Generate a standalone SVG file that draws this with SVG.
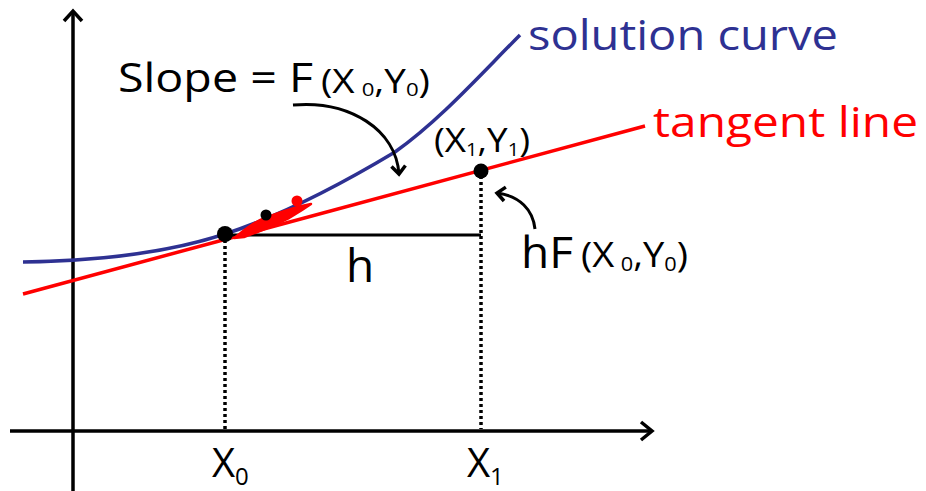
<svg xmlns="http://www.w3.org/2000/svg" width="926" height="491" viewBox="0 0 926 491">
<style>
  .t { font-family: "Open Sans", "Noto Sans", "DejaVu Sans", sans-serif; font-weight: 500; fill: #000; }
  .axis { stroke: #000; stroke-width: 3.5; fill: none; }
  .dot { stroke: #000; stroke-width: 3.5; stroke-dasharray: 3 3; fill: none; }
  .arr { stroke: #000; stroke-width: 3; fill: none; }
</style>
<defs>
  <marker id="head" markerUnits="userSpaceOnUse" markerWidth="24" markerHeight="24" refX="12" refY="8" orient="auto" viewBox="0 0 24 16">
    <path d="M4,1 L12,8 L4,15" fill="none" stroke="#000" stroke-width="3.5" stroke-linejoin="miter"/>
  </marker>
</defs>
<rect width="926" height="491" fill="#fff"/>

<g id="axes">
  <path class="axis" d="M10,431 H651"/>
  <path class="axis" d="M641,422 L652,431 L641,440" stroke-width="4"/>
  <path class="axis" d="M73,491 V12"/>
  <path class="axis" d="M64,21 L73,11 L82,21" stroke-width="4"/>
</g>

<g id="solution-curve">
  <path d="M23,262 C 100,261 170,252 225,234 C 280,216 340,185 395,152 C 440,120 480,75 520,35" fill="none" stroke="#2e3192" stroke-width="3.5"/>
  <text class="t" x="528" y="50" font-size="42" style="fill:#2e3192" textLength="310" lengthAdjust="spacingAndGlyphs">solution curve</text>
</g>

<g id="tangent-line">
  <path d="M23,294 L645,126" fill="none" stroke="#ff0000" stroke-width="3.5"/>
  <text class="t" x="653" y="137" font-size="42" style="fill:#ff0000" textLength="265" lengthAdjust="spacingAndGlyphs">tangent line</text>
</g>

<g id="connectors">
  <path d="M225,235 H481" stroke="#000" stroke-width="3" fill="none"/>
  <path class="dot" d="M225,240 V429"/>
  <path class="dot" d="M481,176 V429"/>
  <path class="arr" d="M293,105 C 350,100 396,130 399,174" marker-end="url(#head)"/>
  <path class="arr" d="M535,229 C 533,210 520,196 497,193" marker-end="url(#head)"/>
</g>

<g id="wedge">
  <path d="M234,238 C 246,229 255,221 265,218 C 276,214 290,208 311,204 C 301,211 294,215 289,218 C 276,224 259,232 244,237 Z" fill="#ff0000" stroke="#ff0000" stroke-width="2.5" stroke-linejoin="round"/>
  <circle cx="266" cy="215" r="5.5" fill="#000"/>
  <circle cx="297" cy="201" r="5.5" fill="#ff0000"/>
</g>

<g id="point-x0">
  <circle cx="225" cy="234" r="8" fill="#000"/>
</g>

<g id="point-x1">
  <circle cx="481" cy="171" r="7.5" fill="#000"/>
  <text class="t" x="434" y="152" font-size="33" textLength="96" lengthAdjust="spacingAndGlyphs">(X<tspan font-size="18" dy="4">1</tspan><tspan dy="-4">,Y</tspan><tspan font-size="18" dy="4">1</tspan><tspan dy="-4">)</tspan></text>
</g>

<g id="slope-label">
  <text class="t" x="118" y="92" font-size="41" textLength="195" lengthAdjust="spacingAndGlyphs">Slope = F</text>
  <text class="t" x="321" y="93" font-size="33" textLength="109" lengthAdjust="spacingAndGlyphs">(X<tspan font-size="19" dx="6" dy="3">0</tspan><tspan dy="-3">,Y</tspan><tspan font-size="19" dy="3">0</tspan><tspan dy="-3">)</tspan></text>
</g>

<g id="hf-label">
  <text class="t" x="521" y="268" font-size="44" textLength="52" lengthAdjust="spacingAndGlyphs">hF</text>
  <text class="t" x="581" y="267" font-size="35" textLength="107" lengthAdjust="spacingAndGlyphs">(X<tspan font-size="20" dx="6" dy="4">0</tspan><tspan dy="-4">,Y</tspan><tspan font-size="20" dy="4">0</tspan><tspan dy="-4">)</tspan></text>
</g>

<g id="h-label">
  <text class="t" x="346" y="282" font-size="46">h</text>
</g>

<g id="x0-label">
  <text class="t" x="212" y="477" font-size="40">X<tspan font-size="24" dy="8">0</tspan></text>
</g>

<g id="x1-label">
  <text class="t" x="467" y="477" font-size="40">X<tspan font-size="24" dy="8">1</tspan></text>
</g>
</svg>
